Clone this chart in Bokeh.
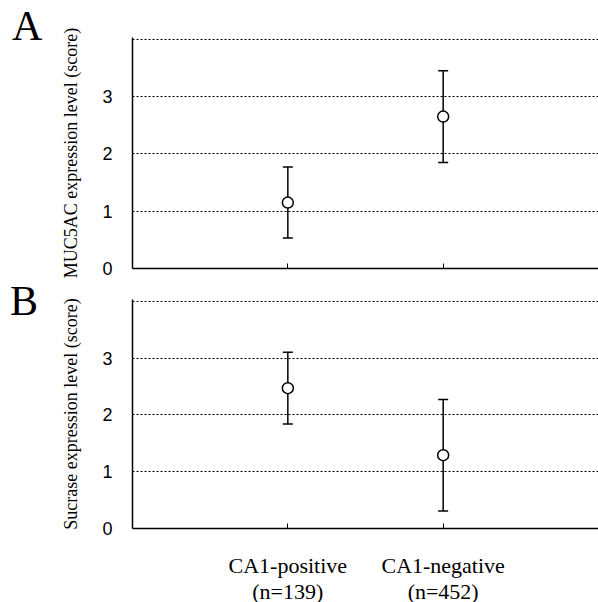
from bokeh.plotting import figure
from bokeh.models import (FactorRange, Range1d, FixedTicker, ColumnDataSource,
                          Whisker, TeeHead, CategoricalAxis, Div)
from bokeh.layouts import column, row
from bokeh.embed import file_html
from bokeh.resources import INLINE

categories = ["CA1-positive", "CA1-negative"]
category_counts = ["(n=139)", "(n=452)"]
muc5ac_mean = [1.15, 2.65]
muc5ac_sd = [0.62, 0.80]
sucrase_mean = [2.47, 1.29]
sucrase_sd = [0.63, 0.98]
y_ticks = [0, 1, 2, 3]
grid_ticks = [1, 2, 3, 4]
panel_letters = ["A", "B"]

SERIF = "Liberation Serif"
SANS = "Liberation Sans"

x_range = FactorRange(factors=categories, range_padding=0.5)

LETTER_W = 50


def letter_panel(letter, height, left, top):
    html = (f'<div style="font-family: \'{SERIF}\'; font-size: 42px; line-height: 27px; '
            f'color: black; margin: {top}px 0 0 {left}px; padding: 0;">{letter}</div>')
    return Div(text=html, width=LETTER_W, height=height, margin=(0, 0, 0, 0))


def make_panel(mean, sd, ylabel, frame_h, top, bottom, show_labels):
    p = figure(x_range=x_range, y_range=Range1d(0, 4.03),
               frame_width=466, frame_height=frame_h,
               min_border_left=132 - LETTER_W, min_border_right=0,
               min_border_top=top, min_border_bottom=bottom,
               output_backend="svg", toolbar_location=None,
               outline_line_color=None,
               background_fill_color="white", border_fill_color="white")
    src = ColumnDataSource(dict(
        cat=categories, mean=mean,
        upper=[m + s for m, s in zip(mean, sd)],
        lower=[m - s for m, s in zip(mean, sd)]))

    # grid
    p.xgrid.visible = False
    p.ygrid.ticker = FixedTicker(ticks=grid_ticks)
    p.ygrid.grid_line_color = "black"
    p.ygrid.grid_line_dash = "2 2"
    p.ygrid.grid_line_width = 1

    # y axis
    yax = p.yaxis[0]
    yax.ticker = FixedTicker(ticks=y_ticks)
    yax.axis_line_color = "black"
    yax.axis_line_width = 1.5
    yax.major_tick_in = 0
    yax.major_tick_out = 0
    yax.minor_tick_line_color = None
    yax.major_label_standoff = 20
    yax.major_label_text_font = SANS
    yax.major_label_text_font_size = "18px"
    yax.major_label_text_color = "black"
    yax.axis_label = ylabel
    yax.axis_label_text_font = SERIF
    yax.axis_label_text_font_style = "normal"
    yax.axis_label_text_font_size = "18px"
    yax.axis_label_text_color = "black"
    yax.axis_label_standoff = 18

    # x axis
    xax = p.xaxis[0]
    xax.axis_line_color = "black"
    xax.axis_line_width = 1.5
    xax.major_tick_in = 5
    xax.major_tick_out = 0
    xax.major_tick_line_color = "black"
    xax.major_tick_line_width = 1
    if show_labels:
        xax.major_label_text_font = SERIF
        xax.major_label_text_font_size = "22px"
        xax.major_label_text_color = "black"
        xax.major_label_standoff = 24
        # second label row with the group sizes
        p.extra_x_ranges = {"counts": FactorRange(factors=category_counts, range_padding=0.5)}
        ax2 = CategoricalAxis(
            x_range_name="counts",
            axis_line_color=None, major_tick_line_color=None,
            minor_tick_line_color=None,
            major_tick_in=0, major_tick_out=0,
            major_label_standoff=-2,
            major_label_text_font=SERIF, major_label_text_font_size="22px",
            major_label_text_color="black")
        p.add_layout(ax2, "below")
    else:
        xax.major_label_text_color = None
        xax.major_label_text_font_size = "1px"
        xax.major_label_standoff = 0

    w = Whisker(source=src, base="cat", upper="upper", lower="lower",
                dimension="height", line_color="black", line_width=1.5,
                upper_head=TeeHead(size=10, line_color="black", line_width=1.5),
                lower_head=TeeHead(size=10, line_color="black", line_width=1.5),
                level="underlay")
    p.add_layout(w)
    p.scatter(x="cat", y="mean", source=src, marker="circle", size=11,
              fill_color="white", line_color="black", line_width=1.5)
    return p


# canvas heights: A = 37 + 231 + 20 = 288, B = 11 + 229 + 74 = 314
pA = make_panel(muc5ac_mean, muc5ac_sd, "MUC5AC expression level (score)", 231, 37, 20, False)
pB = make_panel(sucrase_mean, sucrase_sd, "Sucrase expression level (score)", 229, 11, 74, True)
lA = letter_panel(panel_letters[0], 288, 12, 13)
lB = letter_panel(panel_letters[1], 314, 10, 0)

layout = column(row(lA, pA, spacing=0), row(lB, pB, spacing=0), spacing=0)
open("out.html", "w").write(file_html(layout, INLINE))
